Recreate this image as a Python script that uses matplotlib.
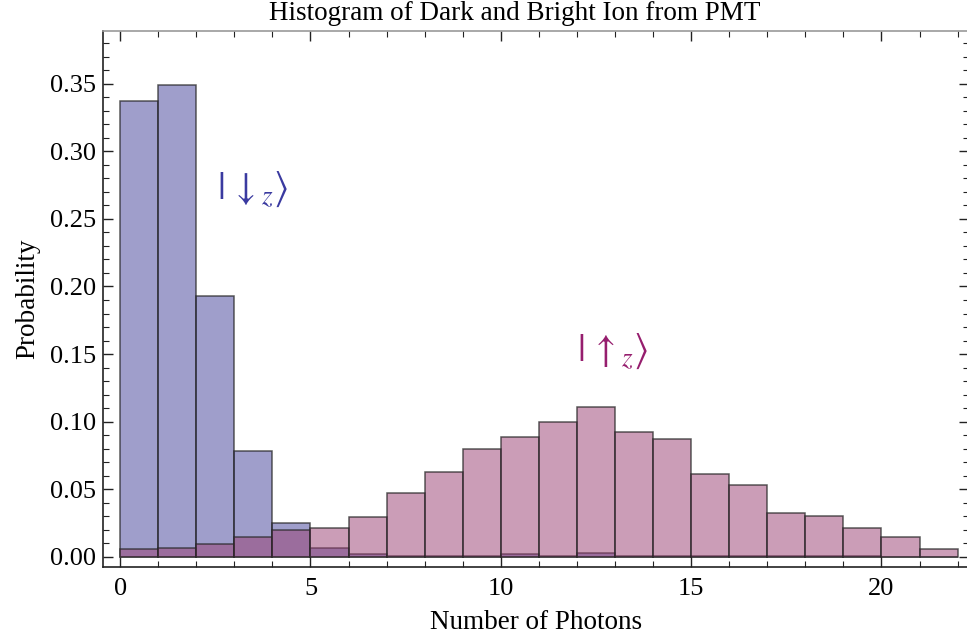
"""Dark / bright ion photon-count histogram from PMT."""

import matplotlib
matplotlib.use("Agg")
import matplotlib.pyplot as plt
import numpy as np
from matplotlib.ticker import MultipleLocator

# photon-count bins: [k, k+1)
bin_edges = np.arange(0, 23)
dark_prob = [0.337, 0.349, 0.193, 0.078, 0.0254, 0.0069, 0.0022, 0.0005, 0.0004,
             0.0004, 0.0018, 0.0010, 0.0027, 0.0006, 0.0004, 0.0003, 0.0006,
             0.0003, 0.0005, 0.0003, 0.0, 0.0]
bright_prob = [0.0057, 0.0069, 0.0094, 0.0150, 0.0200, 0.0210, 0.0296, 0.0470,
               0.0627, 0.0800, 0.0890, 0.1000, 0.1110, 0.0920, 0.0875, 0.0610,
               0.0530, 0.0325, 0.0300, 0.0210, 0.0146, 0.0057]
x_ticks = [0, 5, 10, 15, 20]

plt.rcParams["font.family"] = ["Liberation Serif", "DejaVu Serif"]
plt.rcParams["mathtext.fontset"] = "stix"

fig = plt.figure(figsize=(9.67, 6.42), dpi=100)
ax = fig.add_axes([103 / 967, 1 - 567 / 642, 866 / 967, 536 / 642])

lefts = bin_edges[:-1]
widths = np.diff(bin_edges)
ax.bar(lefts, dark_prob, width=widths, align="edge",
       facecolor=(65 / 255, 63 / 255, 153 / 255, 0.5),
       edgecolor=(0.15, 0.15, 0.15, 0.75), linewidth=1.1)
ax.bar(lefts, bright_prob, width=widths, align="edge",
       facecolor=(153 / 255, 61 / 255, 113 / 255, 0.5),
       edgecolor=(0.15, 0.15, 0.15, 0.75), linewidth=1.1)

ax.set_xlim(-0.45, 22.3)
ax.set_ylim(-0.0075, 0.389)
ax.set_xticks(x_ticks)
ax.xaxis.set_minor_locator(MultipleLocator(1))
ax.yaxis.set_major_locator(MultipleLocator(0.05))
ax.yaxis.set_minor_locator(MultipleLocator(0.01))
ax.yaxis.set_major_formatter(plt.FuncFormatter(lambda v, _: f"{v:.2f}"))

ax.tick_params(which="both", direction="in", top=True, right=True,
               labelsize=19, color="#222222")
ax.tick_params(which="major", length=7, width=1.0)
ax.tick_params(which="minor", length=4, width=0.8)
ax.tick_params(axis="x", pad=8)
ax.tick_params(axis="y", pad=5)

for side in ("left", "bottom"):
    ax.spines[side].set_color("#222222")
    ax.spines[side].set_linewidth(1.2)
for side in ("top", "right"):
    ax.spines[side].set_color("#999999")
    ax.spines[side].set_linewidth(1.2)

ax.set_xlabel("Number of Photons", fontsize=19.5, labelpad=7)
ax.set_ylabel("Probability", fontsize=19.5, labelpad=7)
fig.text(515 / 967, 1 - 14 / 642, "Histogram of Dark and Bright Ion from PMT",
         ha="center", va="center", fontsize=19.5)

ax.text(2.55, 0.272, r"$|\,\downarrow_z\rangle$", color="#3a3aa0",
        fontsize=28, ha="left", va="center")
ax.text(12.0, 0.152, r"$|\,\uparrow_z\rangle$", color="#961e6e",
        fontsize=28, ha="left", va="center")

fig.savefig("out.png", dpi=100)
